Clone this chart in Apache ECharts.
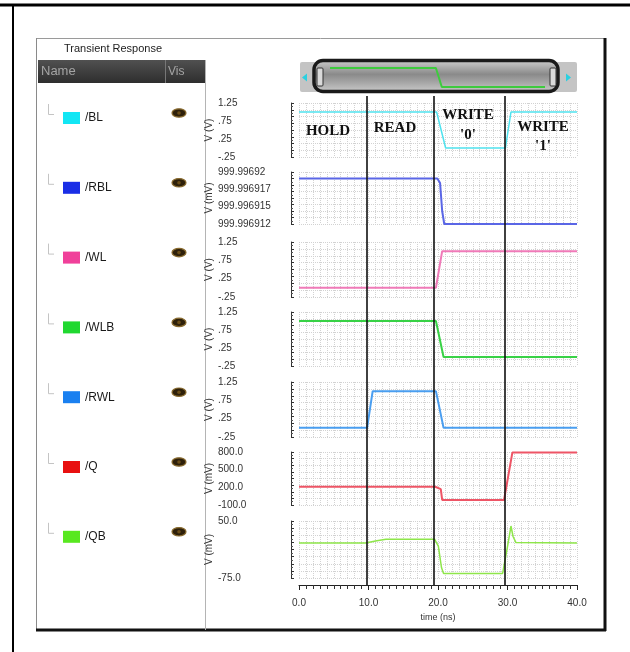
<!DOCTYPE html>
<html><head><meta charset="utf-8">
<script src="https://cdn.jsdelivr.net/npm/echarts@6/dist/echarts.min.js"></script>
<style>html,body{margin:0;padding:0;background:#fff}#c{width:630px;height:652px}</style>
</head><body><div id="c"></div>
<script>
// ---------------- data ----------------
const signalNames = ['/BL', '/RBL', '/WL', '/WLB', '/RWL', '/Q', '/QB'];

const blTime = [0, 19.8, 21.1, 29.7, 30.5, 40];
const blVolt = [1.0, 1.0, 0.0, 0.0, 1.0, 1.0];

const rblTime = [0, 19.9, 20.3, 20.6, 20.9, 40];
const rblMilliVolt = [999.996919, 999.996919, 999.9969183, 999.996914, 999.996912, 999.996912];

const wlTime = [0, 19.7, 20.6, 40];
const wlVolt = [0.0, 0.0, 1.0, 1.0];

const wlbTime = [0, 19.7, 20.2, 20.8, 40];
const wlbVolt = [1.0, 1.0, 0.55, 0.0, 0.0];

const rwlTime = [0, 9.8, 10.6, 19.7, 20.2, 20.8, 40];
const rwlVolt = [0.0, 0.0, 1.0, 1.0, 0.55, 0.0, 0.0];

const qTime = [0, 19.6, 20.4, 20.6, 29.5, 30.7, 40];
const qMilliVolt = [210, 210, 170, -15, -15, 790, 790];

const qbTime = [0, 9.6, 11.0, 12.5, 19.5, 20.05, 20.5, 20.8, 29.3, 30.0, 30.5, 30.8, 31.2, 40];
const qbMilliVolt = [2, 2, 6, 10, 10, -5, -52, -65, -65, -6, 39, 16, 3, 2];

// tick values and tick labels
const voltTicks = [-0.25, 0.25, 0.75, 1.25];
const voltTickLabels = ['-.25', '.25', '.75', '1.25'];
const rblTicks = [999.996912, 999.9969146667, 999.9969173333, 999.99692];
const rblTickLabels = ['999.996912', '999.996915', '999.996917', '999.99692'];
const qTicks = [-100, 200, 500, 800];
const qTickLabels = ['-100.0', '200.0', '500.0', '800.0'];
const qbTicks = [-75, 50];
const qbTickLabels = ['-75.0', '50.0'];
const timeMin = 0, timeMax = 40, timeMajorStep = 10;

const regionBounds = [9.8, 19.4, 29.6];
const regionLabels = ['HOLD', 'READ', "WRITE\n'0'", "WRITE\n'1'"];

// ---------------- layout / styles ----------------
const SANS = '"Liberation Sans", Arial, sans-serif';
const SERIF = '"Liberation Serif", "Times New Roman", serif';
const PL = 299, PR = 53;
const panelTop = [103, 172, 242, 312, 382, 452, 521];
const panelBottom = [157, 224, 297, 366, 437, 505, 578];
const GRIDC = '#d2d2d2';

const panels = [
  { t: blTime, v: blVolt, ticks: voltTicks, labels: voltTickLabels, unit: 'V (V)', line: '#4fe2ee', key: '#12e6f4', w: 1.5 },
  { t: rblTime, v: rblMilliVolt, ticks: rblTicks, labels: rblTickLabels, unit: 'V (mV)', line: '#5a66e6', key: '#1a2ee6', w: 2 },
  { t: wlTime, v: wlVolt, ticks: voltTicks, labels: voltTickLabels, unit: 'V (V)', line: '#f07ab8', key: '#f0409a', w: 2 },
  { t: wlbTime, v: wlbVolt, ticks: voltTicks, labels: voltTickLabels, unit: 'V (V)', line: '#38d246', key: '#20d830', w: 2 },
  { t: rwlTime, v: rwlVolt, ticks: voltTicks, labels: voltTickLabels, unit: 'V (V)', line: '#4a9ef0', key: '#1a80f0', w: 2 },
  { t: qTime, v: qMilliVolt, ticks: qTicks, labels: qTickLabels, unit: 'V (mV)', line: '#ee5566', key: '#e81010', w: 2 },
  { t: qbTime, v: qbMilliVolt, ticks: qbTicks, labels: qbTickLabels, unit: 'V (mV)', line: '#8ee64a', key: '#58e820', w: 1.5 }
];

const grids = [], xAxes = [], yAxes = [], series = [];

panels.forEach((p, i) => {
  grids.push({ left: PL, right: PR, top: panelTop[i], height: panelBottom[i] - panelTop[i] });
  xAxes.push({
    type: 'value', gridIndex: i, min: timeMin, max: timeMax, interval: 1,
    axisLine: { show: false }, axisTick: { show: false }, axisLabel: { show: false },
    splitLine: { show: true, lineStyle: { color: GRIDC, type: 'dotted', width: 1 } }
  });
  const dataY = yAxes.length;
  yAxes.push({
    type: 'value', gridIndex: i, position: 'left',
    min: p.ticks[0], max: p.ticks[p.ticks.length - 1],
    axisLine: { show: false }, axisTick: { show: false }, splitLine: { show: false },
    axisLabel: {
      customValues: p.ticks, align: 'left', margin: 81, fontSize: 10, color: '#333', fontFamily: SANS,
      formatter: function (val) {
        let best = 0;
        p.ticks.forEach((tv, k) => { if (Math.abs(tv - val) < Math.abs(p.ticks[best] - val)) best = k; });
        return p.labels[best];
      }
    },
    name: p.unit, nameLocation: 'middle', nameGap: 84,
    nameTextStyle: { fontSize: 10, color: '#333', fontFamily: SANS }
  });
  yAxes.push({
    type: 'value', gridIndex: i, position: 'left', offset: 8,
    min: 0, max: 8, interval: 1,
    axisLine: { show: true, lineStyle: { color: '#333', width: 1 } },
    axisTick: { show: true, inside: true, length: 3, lineStyle: { color: '#333' } },
    minorTick: { show: true, splitNumber: 2, length: 2, lineStyle: { color: '#555' } },
    axisLabel: { show: false },
    splitLine: { show: true, lineStyle: { color: GRIDC, type: 'dotted', width: 1 } }
  });
  series.push({
    type: 'line', name: signalNames[i], xAxisIndex: i, yAxisIndex: dataY,
    data: p.t.map((t, k) => [t, p.v[k]]),
    symbol: 'none', showSymbol: false, color: p.key,
    itemStyle: { color: p.key },
    lineStyle: { color: p.line, width: p.w }, silent: true
  });
});

// full-height time grid (time axis + region separator lines)
const gT = grids.length;
grids.push({ left: PL, right: PR, top: 96, bottom: 67 });
xAxes.push({
  type: 'value', gridIndex: gT, min: timeMin, max: timeMax, interval: timeMajorStep,
  axisLine: { show: true, lineStyle: { color: '#222', width: 1 } },
  axisTick: { show: true, length: 5, lineStyle: { color: '#222' } },
  minorTick: { show: true, splitNumber: 10, length: 4, lineStyle: { color: '#333' } },
  axisLabel: { formatter: v => v.toFixed(1), margin: 13, fontSize: 10, color: '#333', fontFamily: SANS },
  splitLine: { show: false },
  name: 'time (ns)', nameLocation: 'middle', nameGap: 25,
  nameTextStyle: { fontSize: 9, color: '#333', fontFamily: SANS }
});
const yT = yAxes.length;
yAxes.push({ type: 'value', gridIndex: gT, min: 0, max: 1, show: false });
series.push({
  type: 'line', name: 'regions', xAxisIndex: gT, yAxisIndex: yT, data: [],
  symbol: 'none', silent: true,
  markLine: {
    symbol: ['none', 'none'], silent: true, label: { show: false },
    lineStyle: { color: '#111', width: 1.6, type: 'solid' },
    data: regionBounds.map(x => ({ xAxis: x }))
  }
});

// overview strip in scrollbar (WLB trace)
const gO = grids.length;
grids.push({ left: 330, right: 85, top: 68, height: 19 });
xAxes.push({ type: 'value', gridIndex: gO, min: timeMin, max: timeMax, show: false });
const yO = yAxes.length;
yAxes.push({ type: 'value', gridIndex: gO, min: 0, max: 1, show: false });
series.push({
  type: 'line', name: 'overview', xAxisIndex: gO, yAxisIndex: yO,
  data: wlbTime.map((t, k) => [t, wlbVolt[k]]),
  symbol: 'none', silent: true, z: 5, lineStyle: { color: '#3ecb3e', width: 2 }
});

// ---------------- decorations ----------------
const G = [];
// outer frame
G.push({ type: 'line', shape: { x1: 0, y1: 5, x2: 630, y2: 5 }, style: { stroke: '#000', lineWidth: 3 } });
G.push({ type: 'line', shape: { x1: 13, y1: 5, x2: 13, y2: 652 }, style: { stroke: '#000', lineWidth: 2 } });
// inner window
G.push({ type: 'line', shape: { x1: 36, y1: 38.5, x2: 605, y2: 38.5 }, style: { stroke: '#9a9a9a', lineWidth: 1 } });
G.push({ type: 'line', shape: { x1: 36.5, y1: 38, x2: 36.5, y2: 630 }, style: { stroke: '#8a8a8a', lineWidth: 1 } });
G.push({ type: 'line', shape: { x1: 605, y1: 38, x2: 605, y2: 631 }, style: { stroke: '#111', lineWidth: 3 } });
G.push({ type: 'line', shape: { x1: 36, y1: 630, x2: 606, y2: 630 }, style: { stroke: '#111', lineWidth: 3 } });
G.push({ type: 'text', x: 64, y: 48.5, style: { text: 'Transient Response', font: '11px ' + SANS, fill: '#222', verticalAlign: 'middle', textVerticalAlign: 'middle' } });
// legend header
G.push({ type: 'rect', shape: { x: 38, y: 60, width: 167, height: 23 },
  style: { fill: new echarts.graphic.LinearGradient(0, 0, 0, 1, [{ offset: 0, color: '#505050' }, { offset: 1, color: '#2e2e2e' }]) } });
G.push({ type: 'text', x: 41, y: 71.5, style: { text: 'Name', font: '13px ' + SANS, fill: '#a4a4a4', verticalAlign: 'middle', textVerticalAlign: 'middle' } });
G.push({ type: 'line', shape: { x1: 165.5, y1: 60, x2: 165.5, y2: 83 }, style: { stroke: '#777', lineWidth: 1 } });
G.push({ type: 'text', x: 168, y: 71.5, style: { text: 'Vis', font: '12px ' + SANS, fill: '#a4a4a4', verticalAlign: 'middle', textVerticalAlign: 'middle' } });
G.push({ type: 'line', shape: { x1: 205.5, y1: 60, x2: 205.5, y2: 630 }, style: { stroke: '#b4b4b4', lineWidth: 1 } });
// tree connectors and eye icons
signalNames.forEach((n, i) => {
  const y = 113 + i * 69.8;
  G.push({ type: 'polyline', shape: { points: [[48.5, y - 9], [48.5, y + 1.5], [54, y + 1.5]] }, style: { stroke: '#c4c4c4', lineWidth: 1, fill: null } });
  G.push({ type: 'ellipse', shape: { cx: 179, cy: y, rx: 7, ry: 4.2 }, style: { fill: '#2e200a', stroke: '#8a6c30', lineWidth: 1.2 } });
  G.push({ type: 'circle', shape: { cx: 179, cy: y, r: 1.8 }, style: { fill: '#6a4c18' } });
});
// scrollbar
G.push({ type: 'rect', z: -1, shape: { x: 300, y: 62, width: 277, height: 30, r: 2 }, style: { fill: '#c4c4c4' } });
G.push({ type: 'polygon', shape: { points: [[302, 77.5], [307, 73.5], [307, 81.5]] }, style: { fill: '#2ad0e0' } });
G.push({ type: 'polygon', shape: { points: [[571, 77.5], [566, 73.5], [566, 81.5]] }, style: { fill: '#2ad0e0' } });
G.push({ type: 'rect', z: 0, shape: { x: 314, y: 60.5, width: 244, height: 31, r: 9 },
  style: { fill: new echarts.graphic.LinearGradient(0, 0, 0, 1, [
    { offset: 0, color: '#d4d4d4' }, { offset: 0.45, color: '#8a8a8a' }, { offset: 0.7, color: '#a8a8a8' }, { offset: 1, color: '#cfcfcf' }]),
    stroke: '#1a1a1a', lineWidth: 3.5 } });
G.push({ type: 'rect', shape: { x: 317, y: 68, width: 6, height: 18, r: 1 }, style: { fill: '#dadada', stroke: '#333', lineWidth: 1 } });
G.push({ type: 'rect', shape: { x: 550, y: 68, width: 6, height: 18, r: 1 }, style: { fill: '#dadada', stroke: '#333', lineWidth: 1 } });
// region annotations
const regionPos = [[328, 131, 19], [395, 128, 19], [468, 125, 20], [543, 136.5, 19]];
regionLabels.forEach((txt, k) => {
  G.push({ type: 'text', z: 10, x: regionPos[k][0], y: regionPos[k][1],
    style: { text: txt, font: 'bold 15px ' + SERIF, fill: '#111', lineHeight: regionPos[k][2],
      align: 'center', verticalAlign: 'middle', textAlign: 'center', textVerticalAlign: 'middle' } });
});

const option = {
  animation: false,
  backgroundColor: '#ffffff',
  grid: grids, xAxis: xAxes, yAxis: yAxes, series: series,
  legend: {
    data: signalNames, orient: 'vertical', left: 58, top: 107,
    itemWidth: 17, itemHeight: 12, itemGap: 57.8, icon: 'rect', selectedMode: false,
    textStyle: { fontSize: 12, lineHeight: 12, color: '#1a1a1a', fontFamily: SANS }
  },
  graphic: { elements: G }
};
const chart = echarts.init(document.getElementById('c'), null, { renderer: 'canvas' });
chart.setOption(option);
</script>
</body></html>
